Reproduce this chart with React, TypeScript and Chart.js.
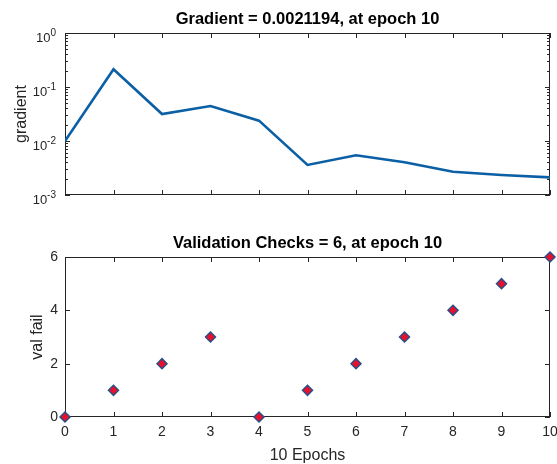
import React, { useEffect, useRef } from "react";
import { Chart, registerables } from "chart.js";

Chart.register(...registerables);

const epochs = [0, 1, 2, 3, 4, 5, 6, 7, 8, 9, 10];
const gradientValues = [0.01, 0.213, 0.0316, 0.0445, 0.0238, 0.0036, 0.00543, 0.00403, 0.0027, 0.00234, 0.0021194];
const valFailValues = [0, 1, 2, 3, 0, 1, 2, 3, 4, 5, 6];
const gradientTicks = [0.001, 0.01, 0.1, 1];
const gradientTickBase = "10";
const gradientTickExponents = ["-3", "-2", "-1", "0"];
const valFailTicks = [0, 2, 4, 6];
const gradientTitle = "Gradient = 0.0021194, at epoch 10";
const valTitle = "Validation Checks = 6, at epoch 10";
const gradientYLabel = "gradient";
const valYLabel = "val fail";
const xLabel = "10 Epochs";

const FONT = "'Liberation Sans', Arial, Helvetica, sans-serif";
const AXIS = "#262626";

const boxPlugin = {
  id: "boxTicks",
  beforeDatasetsDraw(chart: any, _args: any, opts: any) {
    const { ctx, chartArea, scales } = chart;
    const { left, right, top, bottom } = chartArea;
    ctx.save();
    ctx.strokeStyle = AXIS;
    ctx.lineWidth = 1;
    ctx.strokeRect(Math.round(left) + 0.5, Math.round(top) + 0.5, Math.round(right - left) - 1, Math.round(bottom - top) - 1);
    const len = 5;
    ctx.beginPath();
    scales.x.ticks.forEach((t: any) => {
      const px = Math.round(scales.x.getPixelForValue(t.value)) + 0.5;
      ctx.moveTo(px, bottom);
      ctx.lineTo(px, bottom - len);
      ctx.moveTo(px, top);
      ctx.lineTo(px, top + len);
    });
    scales.y.ticks.forEach((t: any) => {
      const py = Math.round(scales.y.getPixelForValue(t.value)) + 0.5;
      ctx.moveTo(left, py);
      ctx.lineTo(left + len, py);
      ctx.moveTo(right, py);
      ctx.lineTo(right - len, py);
    });
    if (opts && opts.logMinor) {
      for (let d = -3; d < 0; d++) {
        for (let m = 2; m <= 9; m++) {
          const py = Math.round(scales.y.getPixelForValue(m * Math.pow(10, d))) + 0.5;
          ctx.moveTo(left, py);
          ctx.lineTo(left + 3, py);
          ctx.moveTo(right, py);
          ctx.lineTo(right - 3, py);
        }
      }
    }
    ctx.stroke();
    if (opts && opts.logMinor) {
      const xr = left - 9;
      ctx.fillStyle = AXIS;
      ctx.textBaseline = "middle";
      scales.y.ticks.forEach((t: any, i: number) => {
        const py = scales.y.getPixelForValue(t.value);
        const exp = gradientTickExponents[i];
        ctx.font = `10px ${FONT}`;
        ctx.textAlign = "right";
        const ew = ctx.measureText(exp).width;
        ctx.fillText(exp, xr, py);
        ctx.font = `13px ${FONT}`;
        ctx.fillText(gradientTickBase, xr - ew, py + 5.5);
      });
    }
    ctx.restore();
  },
};

function GradientChart() {
  const ref = useRef<HTMLCanvasElement>(null);
  useEffect(() => {
    const chart = new Chart(ref.current!, {
      type: "line",
      data: {
        datasets: [
          {
            data: epochs.map((e, i) => ({ x: e, y: gradientValues[i] })),
            borderColor: "#0a5fa5",
            borderWidth: 2.6,
            pointRadius: 0,
            tension: 0,
            fill: false,
          },
        ],
      },
      options: {
        responsive: false,
        animation: false,
        layout: { padding: { left: 0, right: 7, top: 0, bottom: 0 } },
        plugins: {
          legend: { display: false },
          tooltip: { enabled: false },
          title: {
            display: true,
            fullSize: false,
            text: gradientTitle,
            color: "#000",
            font: { family: FONT, size: 16.5, weight: "bold", lineHeight: 1.2 },
            padding: { top: 9.8, bottom: 3.4 },
          },
          boxTicks: { logMinor: true },
        } as any,
        scales: {
          x: {
            type: "linear",
            min: 0,
            max: 10,
            ticks: { display: false, stepSize: 1 },
            grid: { display: false },
            border: { display: false },
            afterFit: (s: any) => {
              s.height = 15;
              s.paddingLeft = 0;
              s.paddingRight = 0;
            },
          },
          y: {
            type: "logarithmic",
            min: 0.001,
            max: 1,
            afterBuildTicks: (s: any) => {
              s.ticks = gradientTicks.map((v) => ({ value: v }));
            },
            ticks: { display: false },
            grid: { display: false },
            border: { display: false },
            title: {
              display: true,
              text: gradientYLabel,
              color: AXIS,
              font: { family: FONT, size: 16, lineHeight: 1 },
              padding: { top: 14, bottom: 0 },
            },
            afterFit: (s: any) => {
              s.width = 65;
              s.paddingTop = 0;
              s.paddingBottom = 0;
            },
          },
        },
      },
      plugins: [boxPlugin],
    });
    return () => chart.destroy();
  }, []);
  return <canvas ref={ref} width={557} height={210} style={{ position: "absolute", left: 0, top: 0 }} />;
}

function ValChart() {
  const ref = useRef<HTMLCanvasElement>(null);
  useEffect(() => {
    const chart = new Chart(ref.current!, {
      type: "line",
      data: {
        datasets: [
          {
            data: epochs.map((e, i) => ({ x: e, y: valFailValues[i] })),
            showLine: false,
            pointStyle: "rectRot",
            pointRadius: 5,
            pointBackgroundColor: "#e8102c",
            pointBorderColor: "#2a4f86",
            pointBorderWidth: 1.5,
            clip: false as any,
          },
        ],
      },
      options: {
        responsive: false,
        animation: false,
        layout: { padding: { left: 0, right: 7, top: 0, bottom: 0 } },
        plugins: {
          legend: { display: false },
          tooltip: { enabled: false },
          title: {
            display: true,
            fullSize: false,
            text: valTitle,
            color: "#000",
            font: { family: FONT, size: 16.5, weight: "bold", lineHeight: 1.2 },
            padding: { top: 14, bottom: 3.2 },
          },
          boxTicks: { logMinor: false },
        } as any,
        scales: {
          x: {
            type: "linear",
            min: 0,
            max: 10,
            ticks: { color: AXIS, stepSize: 1, padding: 7, maxRotation: 0, font: { family: FONT, size: 14 } },
            grid: { display: false, drawTicks: false },
            border: { display: false },
            title: {
              display: true,
              text: xLabel,
              color: AXIS,
              font: { family: FONT, size: 16, lineHeight: 1 },
              padding: { top: 0, bottom: 0 },
            },
            afterFit: (s: any) => {
              s.height = 47;
              s.paddingLeft = 0;
              s.paddingRight = 0;
            },
          },
          y: {
            type: "linear",
            min: 0,
            max: 6,
            afterBuildTicks: (s: any) => {
              s.ticks = valFailTicks.map((v) => ({ value: v }));
            },
            ticks: { color: AXIS, padding: 7, font: { family: FONT, size: 14 } },
            grid: { display: false, drawTicks: false },
            border: { display: false },
            title: {
              display: true,
              text: valYLabel,
              color: AXIS,
              font: { family: FONT, size: 16, lineHeight: 1 },
              padding: { top: 29.5, bottom: 0 },
            },
            afterFit: (s: any) => {
              s.width = 65;
              s.paddingTop = 0;
              s.paddingBottom = 0;
            },
          },
        },
      },
      plugins: [boxPlugin],
    });
    return () => chart.destroy();
  }, []);
  return <canvas ref={ref} width={557} height={244} style={{ position: "absolute", left: 0, top: 220 }} />;
}

export default function App() {
  return (
    <div style={{ position: "absolute", left: 0, top: 0, width: 557, height: 464, background: "#fff" }}>
      <GradientChart />
      <ValChart />
    </div>
  );
}
